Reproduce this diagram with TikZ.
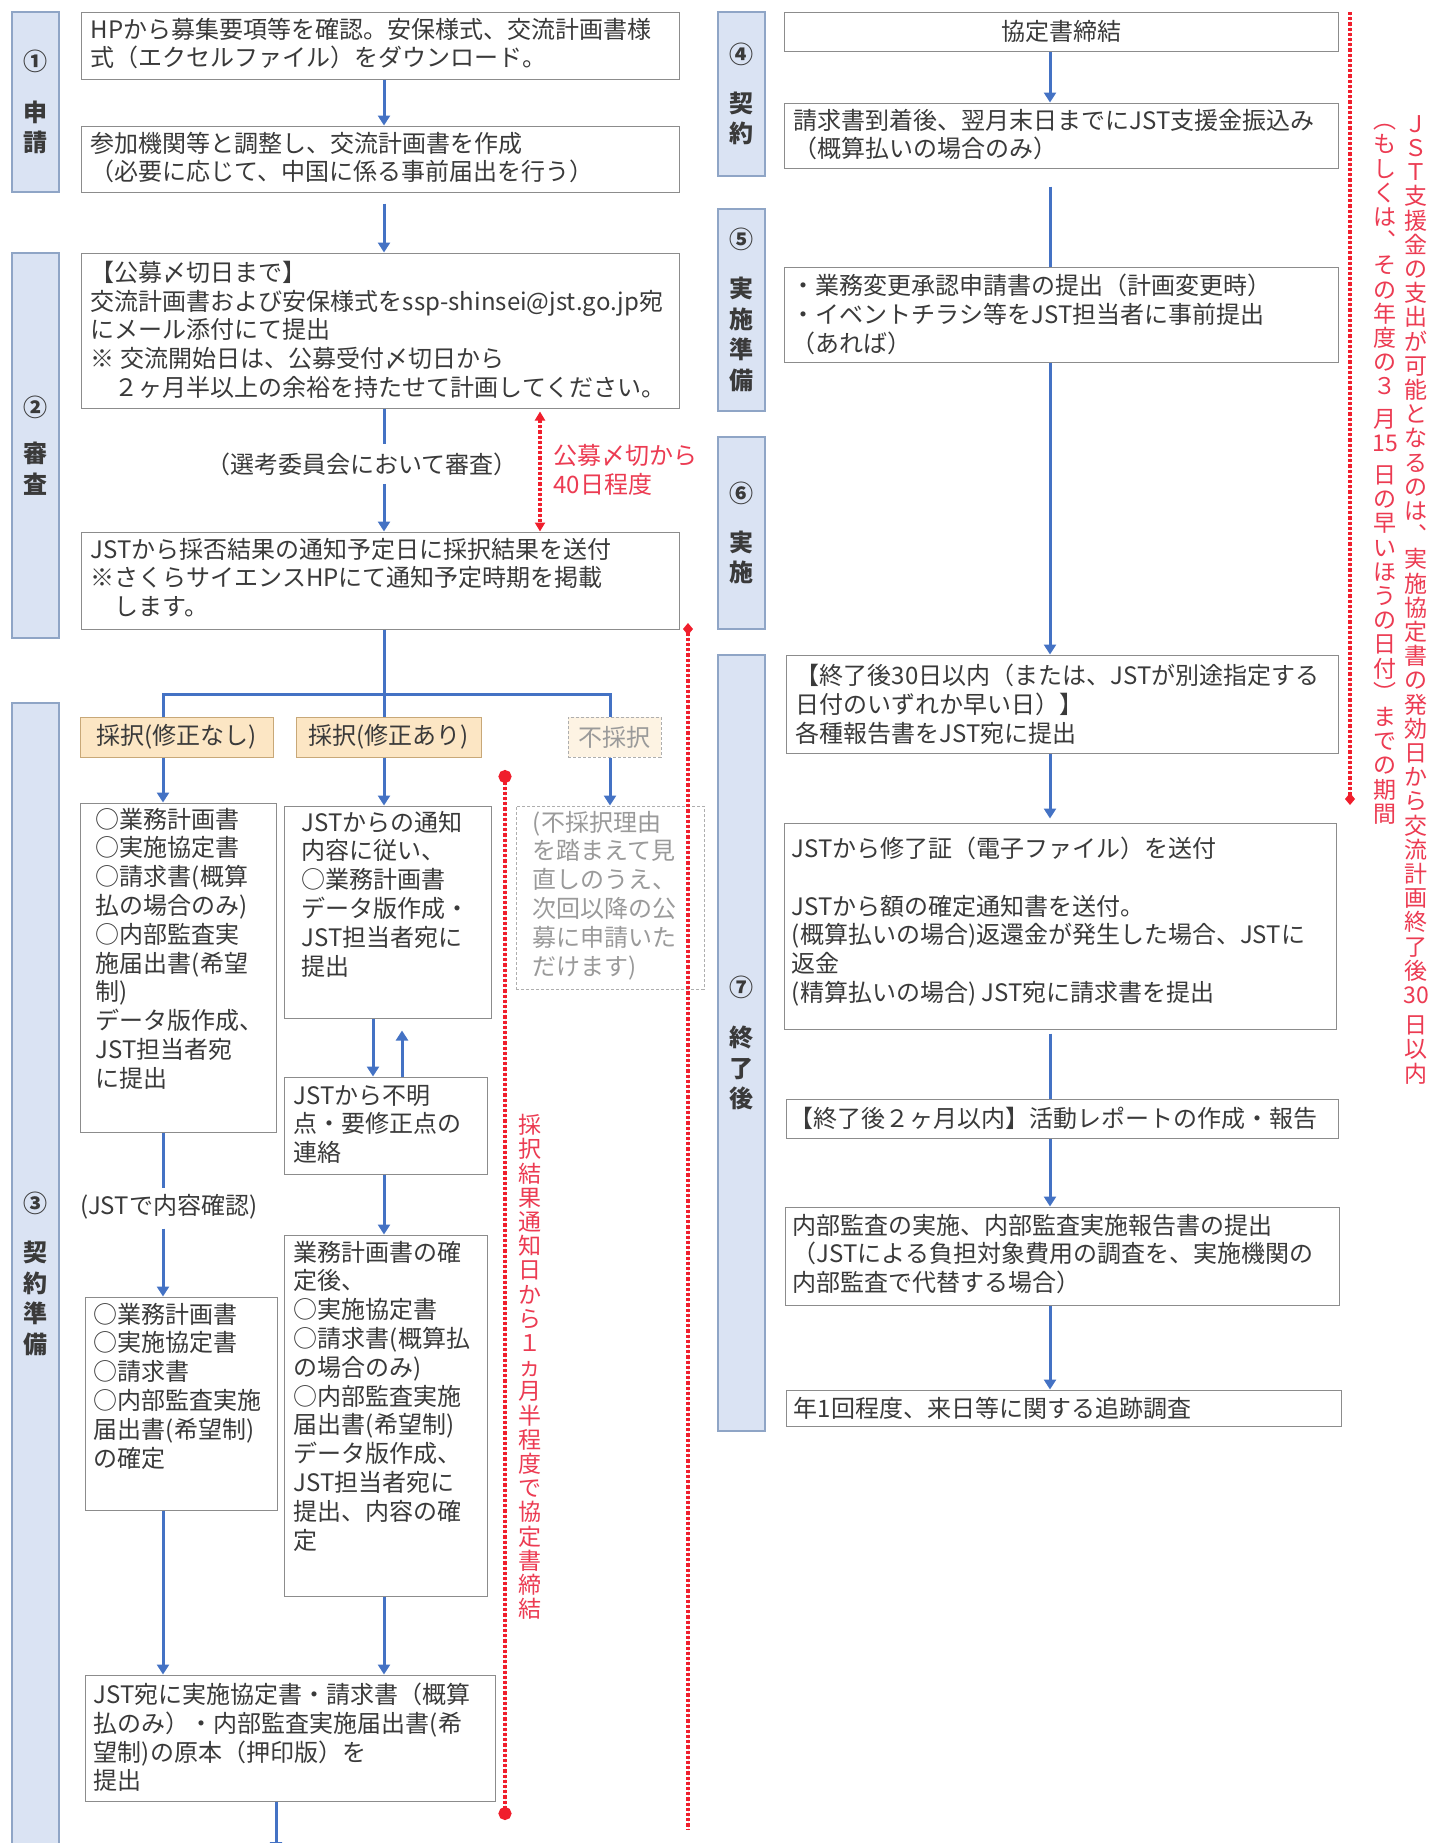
\documentclass[tikz,border=0pt]{standalone}
\usepackage{fontspec}
\setmainfont{Noto Sans CJK JP}
\usetikzlibrary{arrows.meta,fit,calc}

\definecolor{lanefill}{HTML}{DAE3F3}
\definecolor{laneline}{HTML}{8FA5C6}
\definecolor{boxline}{HTML}{8C8C8C}
\definecolor{flowblue}{HTML}{4472C4}
\definecolor{selfill}{HTML}{FCE6C4}
\definecolor{selline}{HTML}{C8A878}
\definecolor{notefill}{HTML}{FDF3E3}
\definecolor{notegray}{HTML}{9A9A9A}
\definecolor{markred}{HTML}{F01E2C}
\definecolor{notered}{HTML}{EC3B52}
\definecolor{bodytext}{HTML}{3A3A3A}

\tikzset{
  lane/.style={draw=laneline, fill=lanefill, line width=0.7pt, inner sep=0pt},
  lanetxt/.style={align=center, inner sep=0pt, text=bodytext, font=\fontsize{12}{15.3}\selectfont\bfseries},
  stepbox/.style={draw=boxline, line width=0.5pt, inner sep=0pt},
  selbox/.style={draw=selline, fill=selfill, line width=0.5pt, inner sep=0pt},
  rejbox/.style={draw=notegray!80, dash pattern=on 1.5pt off 1pt, line width=0.5pt, inner sep=0pt},
  txt/.style={anchor=north west, align=left, inner sep=0pt, text=bodytext, font=\fontsize{12}{14.4}\selectfont},
  gaptxt/.style={txt, anchor=center, inner sep=4pt},
  flow/.style={draw=flowblue, line width=1.5pt, -{Triangle[width=6pt,length=5pt]}},
  flowline/.style={draw=flowblue, line width=1.5pt},
  reddots/.style={draw=markred, fill=markred, line width=1.6pt, dash pattern=on 1.6pt off 1pt},
  tate/.style={anchor=north, align=center, inner sep=0pt, text=notered, font=\fontsize{11.5}{12.1}\selectfont},
}

\begin{document}
\begin{tikzpicture}[x=0.5pt, y=-0.5pt]
  %%%%% START %%%%%
  \fill[white] (0,0) rectangle (1440,1843);
  \useasboundingbox (0,0) rectangle (1440,1843);

  \coordinate (colA) at (163,0);
  \coordinate (colB) at (384,0);
  \coordinate (colC) at (610,0);
  \coordinate (colN) at (540,0);
  \coordinate (colBd) at (373,0);
  \coordinate (colBu) at (402,0);
  \coordinate (colR) at (1050,0);

  % lanes
  \node[lane, fit={(12,12) (59,192)}] (lane1) {};
  \node[lanetxt] at (lane1.center) {①\\[10pt]申\\請};
  \node[lane, fit={(12,253) (59,638)}] (lane2) {};
  \node[lanetxt] at (lane2.center) {②\\[8pt]審\\査};
  \node[lane, fit={(12,703) (59,1845)}] (lane3) {};
  \node[lanetxt] at (lane3.center) {③\\[9pt]契\\約\\準\\備};
  \node[lane, fit={(718,12) (765,176)}] (lane4) {};
  \node[lanetxt] at (lane4.center) {④\\[9pt]契\\約};
  \node[lane, fit={(718,209) (765,411)}] (lane5) {};
  \node[lanetxt] at (lane5.center) {⑤\\[9pt]実\\施\\準\\備};
  \node[lane, fit={(718,437) (765,629)}] (lane6) {};
  \node[lanetxt] at (lane6.center) {⑥\\[9pt]実\\施};
  \node[lane, fit={(718,655) (765,1431)}] (lane7) {};
  \node[lanetxt] at (lane7.center) {⑦\\[10pt]終\\了\\後};

  % apply and screening
  \node[stepbox, fit={(81,12) (679,79)}] (apply1) {};
  \node[txt] at ([shift={(10,6)}]apply1.north west) {HPから募集要項等を確認。安保様式、交流計画書様\\式（エクセルファイル）をダウンロード。};
  \node[stepbox, fit={(81,126) (679,192)}] (apply2) {};
  \node[txt] at ([shift={(10,6)}]apply2.north west) {参加機関等と調整し、交流計画書を作成\\（必要に応じて、中国に係る事前届出を行う）};
  \node[stepbox, fit={(81,253) (679,408)}] (screen1) {};
  \node[txt] at ([shift={(10,8)}]screen1.north west) {【公募〆切日まで】\\交流計画書および安保様式をssp-shinsei@jst.go.jp宛\\にメール添付にて提出\\※ 交流開始日は、公募受付〆切日から\\　２ヶ月半以上の余裕を持たせて計画してください。};
  \node[gaptxt] (review) at (362,464) {（選考委員会において審査）};
  \node[stepbox, fit={(81,532) (679,629)}] (screen2) {};
  \node[txt] at ([shift={(10,6)}]screen2.north west) {JSTから採否結果の通知予定日に採択結果を送付\\※さくらサイエンスHPにて通知予定時期を掲載\\　します。};
  \node[txt, text=notered, anchor=west] (days40) at (553,470) {公募〆切から\\40日程度};

  \draw[flow] (apply1.south -| colB) -- (apply2.north -| colB);
  \draw[flow] ($(apply2.south -| colB)+(0,11)$) -- (screen1.north -| colB);
  \draw[flowline] (screen1.south -| colB) -- (review.north -| colB);
  \draw[flow] (review.south -| colB) -- (screen2.north -| colB);
  \draw[reddots, {Triangle[width=5pt,length=4.5pt]}-{Triangle[width=5pt,length=4.5pt]}] ($(screen1.south -| colN)+(0,3)$) -- (screen2.north -| colN);

  % results
  \node[selbox, fit={(80,717) (273,757)}] (pick1) {};
  \node[txt, anchor=center] at (pick1.center) {採択(修正なし)};
  \node[selbox, fit={(296,717) (481,757)}] (pick2) {};
  \node[txt, anchor=center] at (pick2.center) {採択(修正あり)};
  \node[rejbox, fill=notefill, fit={(568,717) (661,757)}] (pick3) {};
  \node[txt, anchor=center, text=notegray] at (pick3.center) {不採択};
  \coordinate (split) at (384,694);
  \draw[flowline] (screen2.south -| colB) -- (split) -- (pick2.north -| colB);
  \draw[flowline] (pick1.north -| colA) -- (split -| colA) -- (split -| colC) -- (pick3.north -| colC);

  \node[stepbox, fit={(80,803) (276,1132)}] (plan1) {};
  \node[txt] at ([shift={(16,5)}]plan1.north west) {○業務計画書\\○実施協定書\\○請求書(概算\\払の場合のみ)\\○内部監査実\\施届出書(希望\\制)\\データ版作成、\\JST担当者宛\\に提出};
  \node[stepbox, fit={(284,806) (491,1018)}] (fix1) {};
  \node[txt] at ([shift={(18,5)}]fix1.north west) {JSTからの通知\\内容に従い、\\○業務計画書\\データ版作成・\\JST担当者宛に\\提出};
  \node[rejbox, fit={(516,806) (704,989)}] (reject) {};
  \node[txt, text=notegray] at ([shift={(17,5)}]reject.north west) {(不採択理由\\を踏まえて見\\直しのうえ、\\次回以降の公\\募に申請いた\\だけます)};
  \node[stepbox, fit={(284,1077) (487,1174)}] (fix2) {};
  \node[txt] at ([shift={(10,8)}]fix2.north west) {JSTから不明\\点・要修正点の\\連絡};
  \node[gaptxt, anchor=west, inner sep=0pt] (check) at (80,1207) {(JSTで内容確認)};
  \node[stepbox, fit={(85,1297) (277,1510)}] (plan2) {};
  \node[txt] at ([shift={(9,6)}]plan2.north west) {○業務計画書\\○実施協定書\\○請求書\\○内部監査実施\\届出書(希望制)\\の確定};
  \node[stepbox, fit={(284,1235) (487,1596)}] (fix3) {};
  \node[txt] at ([shift={(10,6)}]fix3.north west) {業務計画書の確\\定後、\\○実施協定書\\○請求書(概算払\\の場合のみ)\\○内部監査実施\\届出書(希望制)\\データ版作成、\\JST担当者宛に\\提出、内容の確\\定};
  \node[stepbox, fit={(85,1675) (495,1801)}] (submit) {};
  \node[txt] at ([shift={(9,8)}]submit.north west) {JST宛に実施協定書・請求書（概算\\払のみ）・内部監査実施届出書(希\\望制)の原本（押印版）を\\提出};
  \coordinate (exit) at (276,1852);

  \draw[flow] (pick1.south -| colA) -- (plan1.north -| colA);
  \draw[flow] (pick2.south -| colB) -- (fix1.north -| colB);
  \draw[flow] (pick3.south -| colC) -- (reject.north -| colC);
  \draw[flow] (fix1.south -| colBd) -- (fix2.north -| colBd);
  \draw[flow] (fix2.north -| colBu) -- ($(fix1.south -| colBu)+(0,12)$);
  \draw[flow] (fix2.south -| colB) -- (fix3.north -| colB);
  \draw[flowline] (plan1.south -| colA) -- ($(plan1.south -| colA)+(0,55)$);
  \draw[flow] ($(plan2.north -| colA)+(0,-68)$) -- (plan2.north -| colA);
  \draw[flow] (plan2.south -| colA) -- (submit.north -| colA);
  \draw[flow] (fix3.south -| colB) -- (submit.north -| colB);
  \draw[flow] (submit.south -| exit) -- (exit);

  % deadlines
  \coordinate (due1a) at (505,770);
  \coordinate (due1b) at (505,1820);
  \coordinate (due2a) at (688,623);
  \coordinate (due2b) at (688,1830);
  \draw[reddots, {Circle[length=6.5pt]}-{Circle[length=6.5pt]}] (due1a) -- (due1b);
  \draw[reddots, {Diamond[width=5pt,length=6pt]}-] (due2a) -- (due2b);
  \node[tate] (due1txt) at (530,1114) {採\\択\\結\\果\\通\\知\\日\\か\\ら\\１\\ヵ\\月\\半\\程\\度\\で\\協\\定\\書\\締\\結};

  % right column
  \node[stepbox, fit={(784,12) (1338,51)}] (sign) {};
  \node[txt, anchor=center] at (sign.center) {協定書締結};
  \node[stepbox, fit={(784,103) (1338,168)}] (pay) {};
  \node[txt] at ([shift={(10,6)}]pay.north west) {請求書到着後、翌月末日までにJST支援金振込み\\（概算払いの場合のみ）};
  \node[stepbox, fit={(784,267) (1338,362)}] (prep) {};
  \node[txt] at ([shift={(8,7)}]prep.north west) {・業務変更承認申請書の提出（計画変更時）\\・イベントチラシ等をJST担当者に事前提出\\（あれば）};
  \node[stepbox, fit={(786,655) (1338,753)}] (finrep) {};
  \node[txt] at ([shift={(10,9)}]finrep.north west) {【終了後30日以内（または、JSTが別途指定する\\日付のいずれか早い日）】\\各種報告書をJST宛に提出};
  \node[stepbox, fit={(784,823) (1336,1029)}] (cert) {};
  \node[txt] at ([shift={(8,14)}]cert.north west) {JSTから修了証（電子ファイル）を送付\\[14.4pt]JSTから額の確定通知書を送付。\\(概算払いの場合)返還金が発生した場合、JSTに\\返金\\(精算払いの場合) JST宛に請求書を提出};
  \node[stepbox, fit={(786,1099) (1338,1138)}] (activity) {};
  \node[txt, anchor=west] at ([xshift=2pt]activity.west) {【終了後２ヶ月以内】活動レポートの作成・報告};
  \node[stepbox, fit={(785,1207) (1339,1305)}] (audit) {};
  \node[txt] at ([shift={(8,7)}]audit.north west) {内部監査の実施、内部監査実施報告書の提出\\（JSTによる負担対象費用の調査を、実施機関の\\内部監査で代替する場合）};
  \node[stepbox, fit={(786,1390) (1341,1426)}] (follow) {};
  \node[txt, anchor=west] at ([xshift=4pt]follow.west) {年1回程度、来日等に関する追跡調査};

  \draw[flow] (sign.south -| colR) -- (pay.north -| colR);
  \draw[flowline] ($(pay.south -| colR)+(0,18)$) -- (prep.north -| colR);
  \draw[flow] (prep.south -| colR) -- (finrep.north -| colR);
  \draw[flow] (finrep.south -| colR) -- ($(cert.north -| colR)+(0,-4)$);
  \draw[flowline] ($(cert.south -| colR)+(0,4)$) -- (activity.north -| colR);
  \draw[flow] (activity.south -| colR) -- (audit.north -| colR);
  \draw[flow] (audit.south -| colR) -- (follow.north -| colR);

  % funding period
  \coordinate (due3a) at (1350,12);
  \coordinate (due3b) at (1350,805);
  \draw[reddots, -{Diamond[width=5pt,length=6pt]}] (due3a) -- (due3b);
  \node[tate] (due3txt) at (1416,115) {Ｊ\\Ｓ\\Ｔ\\支\\援\\金\\の\\支\\出\\が\\可\\能\\と\\な\\る\\の\\は\\︑\\実\\施\\協\\定\\書\\の\\発\\効\\日\\か\\ら\\交\\流\\計\\画\\終\\了\\後\\30\\[3pt]日\\以\\内};
  \node[tate] (due3sub) at (1385,124) {︵\\も\\し\\く\\は\\︑\\そ\\の\\年\\度\\の\\３\\[4pt]月\\15\\[4pt]日\\の\\早\\い\\ほ\\う\\の\\日\\付\\︶\\ま\\で\\の\\期\\間};
  %%%%% END %%%%%
\end{tikzpicture}
\end{document}
